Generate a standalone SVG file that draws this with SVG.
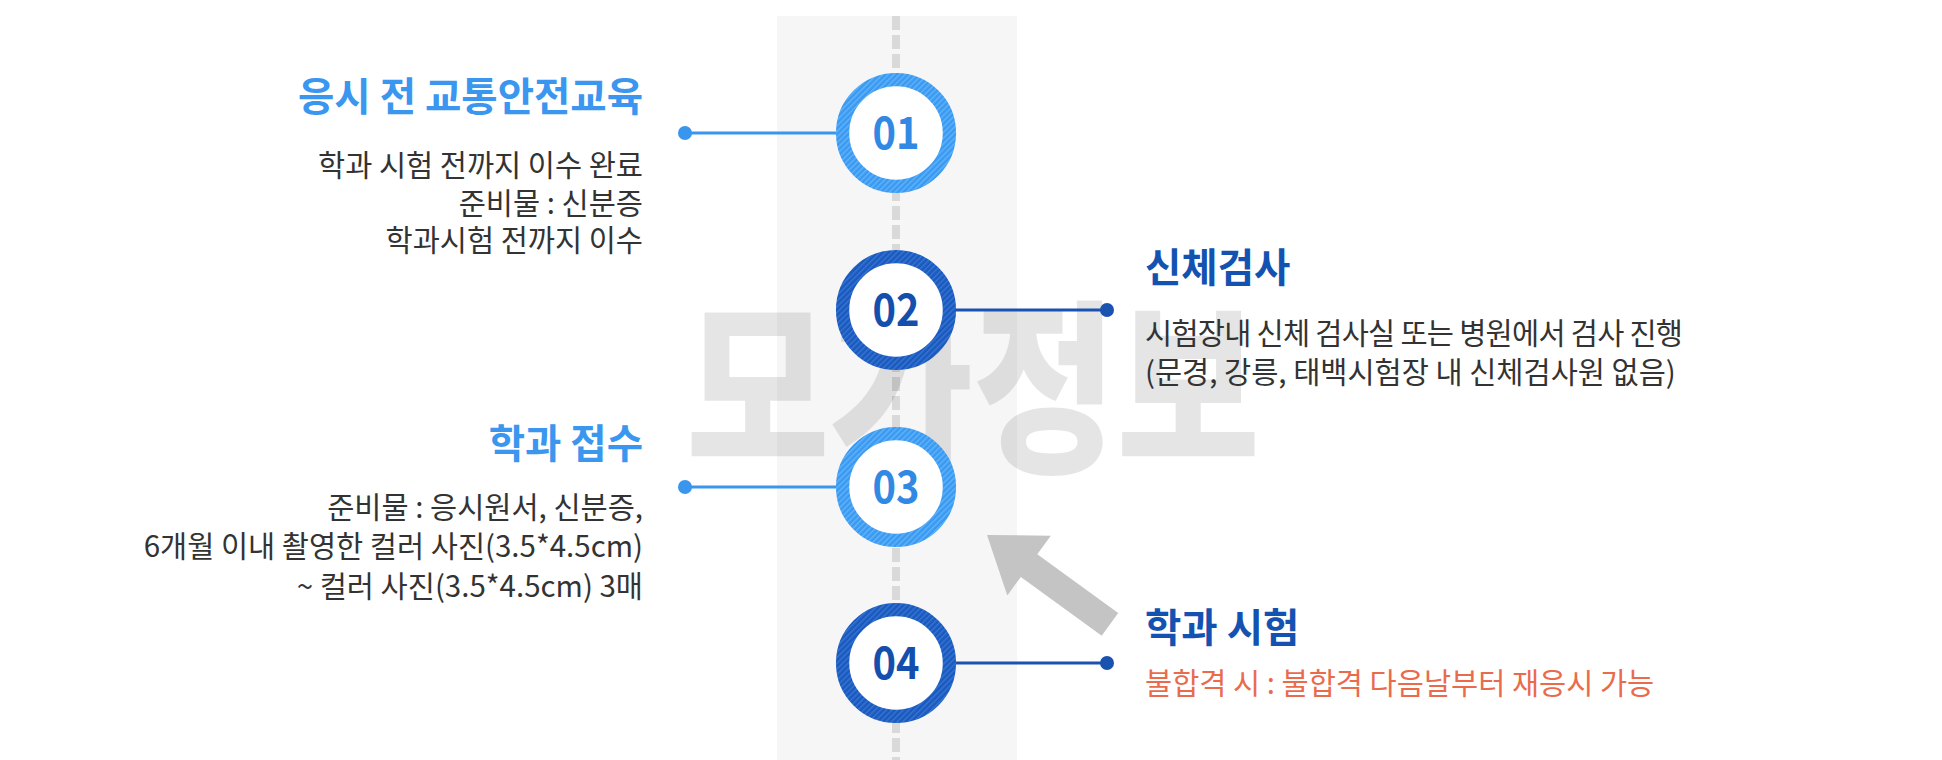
<svg xmlns="http://www.w3.org/2000/svg" width="1942" height="760" viewBox="0 0 1942 760">
<style>
.title{font-family:"Noto Sans CJK KR","Noto Sans",sans-serif;font-size:39.5px;font-weight:700}
.body{font-family:"Noto Sans CJK KR","Noto Sans",sans-serif;font-size:29.5px;font-weight:400;fill:#333333}
.lt{fill:#3a96ee}
.dk{fill:#1452b2}
.num{font-family:"Noto Sans CJK KR","Noto Sans",sans-serif;font-size:45px;font-weight:700;text-anchor:middle}
.end{text-anchor:end}
.warn{fill:#ea6b4c}
.lline{stroke:#3a95ee;stroke-width:3;fill:none}
.dline{stroke:#1a52b0;stroke-width:3;fill:none}
</style>
<defs>
<pattern id="hatchL" width="4" height="4" patternUnits="userSpaceOnUse" patternTransform="rotate(45)">
<rect width="4" height="4" fill="#3a9af1"/>
<rect width="1.4" height="4" fill="#62b3fa"/>
</pattern>
<pattern id="hatchD" width="4" height="4" patternUnits="userSpaceOnUse" patternTransform="rotate(45)">
<rect width="4" height="4" fill="#1a5abe"/>
<rect width="1.4" height="4" fill="#3874d2"/>
</pattern>
</defs>
<rect width="1942" height="760" fill="#ffffff"/>
<rect x="777" y="16" width="240" height="744" fill="#f6f6f6"/>
<line x1="896" y1="16" x2="896" y2="760" stroke="#d9d9d9" stroke-width="8" stroke-dasharray="14 5"/>
<text x="686" y="458" font-family="'Noto Sans CJK KR',sans-serif" font-size="186" font-weight="900" fill="#000000" fill-opacity="0.1" textLength="574" lengthAdjust="spacingAndGlyphs">모가정보</text>
<polygon points="0,0 -52,-37 -52,-14 -152,-14 -152,14 -52,14 -52,37" fill="#c4c4c4" transform="translate(987,535) rotate(216)"/>
<g id="connectors">
<line class="lline" x1="685" y1="133" x2="836" y2="133"/>
<circle cx="685" cy="133" r="7" fill="#3a95ee"/>
<line class="dline" x1="956" y1="310" x2="1107" y2="310"/>
<circle cx="1107" cy="310" r="7" fill="#1a52b0"/>
<line class="lline" x1="685" y1="487" x2="836" y2="487"/>
<circle cx="685" cy="487" r="7" fill="#3a95ee"/>
<line class="dline" x1="956" y1="663" x2="1107" y2="663"/>
<circle cx="1107" cy="663" r="7" fill="#1a52b0"/>
</g>
<g id="node1">
<circle cx="896" cy="133" r="53.4" fill="#ffffff" stroke="url(#hatchL)" stroke-width="13.3"/>
<text class="num" x="896" y="149" textLength="47" lengthAdjust="spacingAndGlyphs" fill="#3189e3">01</text>
<text class="title lt end" x="643" y="111">응시 전 교통안전교육</text>
<text class="body end" x="643" y="176">학과 시험 전까지 이수 완료</text>
<text class="body end" x="643" y="214">준비물 : 신분증</text>
<text class="body end" x="643" y="251">학과시험 전까지 이수</text>
</g>
<g id="node2">
<circle cx="896" cy="310" r="53.4" fill="#ffffff" stroke="url(#hatchD)" stroke-width="13.3"/>
<text class="num" x="896" y="326" textLength="47" lengthAdjust="spacingAndGlyphs" fill="#144fae">02</text>
<text class="title dk" x="1145" y="282">신체검사</text>
<text class="body" x="1145" y="344" textLength="538" lengthAdjust="spacing">시험장내 신체 검사실 또는 병원에서 검사 진행</text>
<text class="body" x="1145" y="383">(문경, 강릉, 태백시험장 내 신체검사원 없음)</text>
</g>
<g id="node3">
<circle cx="896" cy="487" r="53.4" fill="#ffffff" stroke="url(#hatchL)" stroke-width="13.3"/>
<text class="num" x="896" y="503" textLength="47" lengthAdjust="spacingAndGlyphs" fill="#3189e3">03</text>
<text class="title lt end" x="643" y="458">학과 접수</text>
<text class="body end" x="643" y="518">준비물 : 응시원서, 신분증,</text>
<text class="body end" x="643" y="557">6개월 이내 촬영한 컬러 사진(3.5*4.5cm)</text>
<text class="body end" x="643" y="597">~ 컬러 사진(3.5*4.5cm) 3매</text>
</g>
<g id="node4">
<circle cx="896" cy="663" r="53.4" fill="#ffffff" stroke="url(#hatchD)" stroke-width="13.3"/>
<text class="num" x="896" y="679" textLength="47" lengthAdjust="spacingAndGlyphs" fill="#144fae">04</text>
<text class="title dk" x="1145" y="642">학과 시험</text>
<text class="body warn" x="1145" y="694">불합격 시 : 불합격 다음날부터 재응시 가능</text>
</g>
</svg>
